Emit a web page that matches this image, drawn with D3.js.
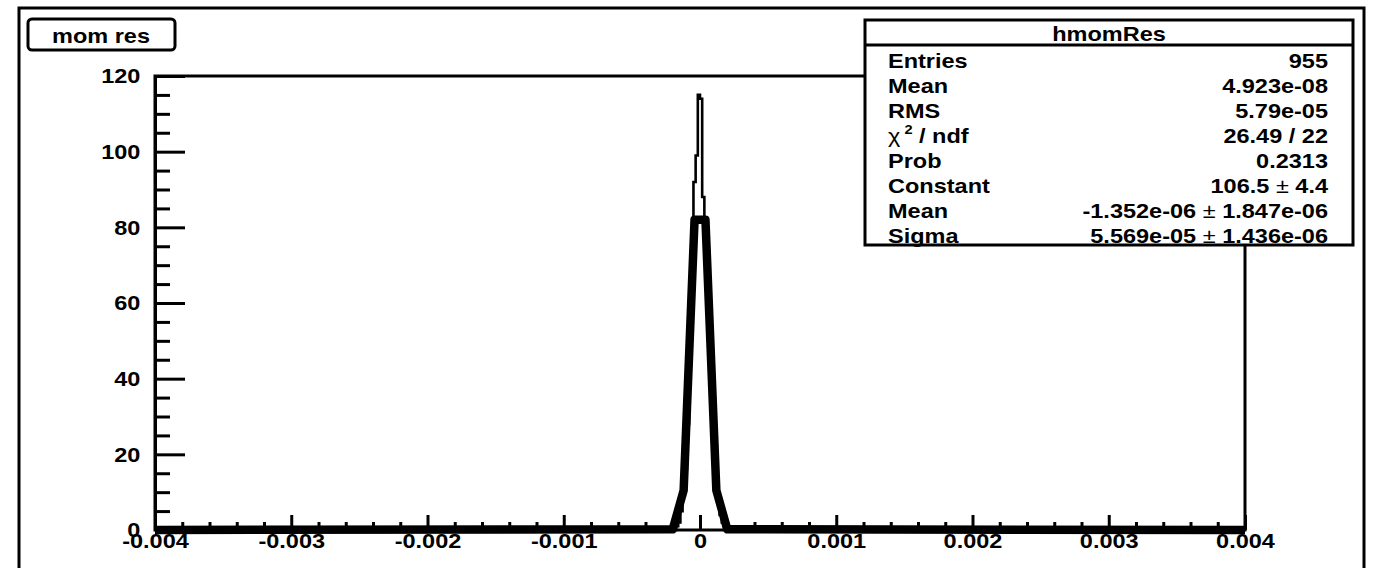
<!DOCTYPE html>
<html>
<head>
<meta charset="utf-8">
<script src="https://cdn.jsdelivr.net/npm/d3@7"></script>
<style>
  body { margin: 0; background: #fff; }
  text { font-family: "Liberation Sans", Arial, sans-serif; font-weight: bold; fill: #000; }
</style>
</head>
<body>
<div id="chart"></div>
<script>
// tick values
const xTicks = [-0.004, -0.003, -0.002, -0.001, 0, 0.001, 0.002, 0.003, 0.004];
const yTicks = [0, 20, 40, 60, 80, 100, 120];

// histogram hmomRes: bin width and counts of the bins around zero (all others empty)
const binWidth = 0.000016;
const histStart = -0.000192;
const histCounts = [0, 1, 2, 5, 9, 16, 28, 44, 60, 92, 99, 115,
                    114, 88, 80, 66, 50, 36, 24, 14, 8, 4, 2, 1];

// gaussian fit curve as drawn (sampled points)
const fitX = [-0.004, -0.0002, -0.00012, -0.00004, 0.00004, 0.00012, 0.0002, 0.004];
const fitY = [0, 0.2, 10.5, 82, 82, 10.5, 0.2, 0];

// stats box
const statsTitle = "hmomRes";
const statsLabels = ["Entries", "Mean", "RMS", "chi2", "Prob", "Constant", "Mean", "Sigma"];
const statsValues = ["955", "4.923e-08", "5.79e-05", "26.49 / 22", "0.2313",
                     "106.5|4.4", "-1.352e-06|1.847e-06", "5.569e-05|1.436e-06"];

const W = 1378, H = 568;
const plot = { left: 155, right: 1245, top: 76, bottom: 530 };
const sx = 1.12; // text is a bit wider than it is tall

const svg = d3.select("#chart").append("svg")
    .attr("width", W)
    .attr("height", H);

// outer canvas frame
svg.append("rect")
    .attr("x", 19).attr("y", 8)
    .attr("width", 1345).attr("height", 580)
    .attr("fill", "none").attr("stroke", "#000").attr("stroke-width", 3);

const x = d3.scaleLinear().domain([-0.004, 0.004]).range([plot.left, plot.right]);
const y = d3.scaleLinear().domain([0, 120]).range([plot.bottom, plot.top]);

// plot frame
svg.append("rect")
    .attr("x", plot.left).attr("y", plot.top)
    .attr("width", plot.right - plot.left).attr("height", plot.bottom - plot.top)
    .attr("fill", "none").attr("stroke", "#000").attr("stroke-width", 3);

function fmtX(d) {
    if (Math.abs(d) < 1e-12) return "0";
    return d.toFixed(3);
}

// minor ticks
svg.append("g")
    .attr("transform", `translate(${plot.left},0)`)
    .call(d3.axisLeft(y).tickValues(d3.range(0, 121, 5).filter(v => v % 20 !== 0))
        .tickSize(-15).tickSizeOuter(0).tickFormat(""))
    .call(g => g.select(".domain").remove())
    .call(g => g.selectAll("line").attr("stroke-width", 3));

svg.append("g")
    .attr("transform", `translate(0,${plot.bottom})`)
    .call(d3.axisBottom(x).tickValues(d3.range(-20, 21).filter(i => i % 5 !== 0).map(i => i / 5000))
        .tickSize(-8).tickSizeOuter(0).tickFormat(""))
    .call(g => g.select(".domain").remove())
    .call(g => g.selectAll("line").attr("stroke-width", 3));

// major ticks + labels
const yAxis = svg.append("g")
    .attr("transform", `translate(${plot.left},0)`)
    .call(d3.axisLeft(y).tickValues(yTicks).tickSize(-30).tickSizeOuter(0).tickPadding(13))
    .call(g => g.select(".domain").attr("stroke-width", 3))
    .call(g => g.selectAll("line").attr("stroke-width", 3));
yAxis.selectAll("text")
    .attr("font-size", 21).attr("font-family", null)
    .attr("transform", `scale(${sx},1)`);

const xAxis = svg.append("g")
    .attr("transform", `translate(0,${plot.bottom})`)
    .call(d3.axisBottom(x).tickValues(xTicks).tickSize(-15).tickSizeOuter(0).tickPadding(3).tickFormat(fmtX))
    .call(g => g.select(".domain").remove())
    .call(g => g.selectAll("line").attr("stroke-width", 3));
xAxis.selectAll("text")
    .attr("font-size", 21).attr("font-family", null)
    .attr("transform", `scale(${sx},1)`);

// histogram (thin steps)
const histPts = [[-0.004, 0]];
histCounts.forEach((c, i) => histPts.push([histStart + i * binWidth, c]));
histPts.push([histStart + histCounts.length * binWidth, 0]);
histPts.push([0.004, 0]);

svg.append("path")
    .datum(histPts)
    .attr("d", d3.line().x(d => x(d[0])).y(d => y(d[1])).curve(d3.curveStepAfter))
    .attr("fill", "none").attr("stroke", "#000").attr("stroke-width", 2.6);

// fit (thick)
svg.append("path")
    .datum(fitX.map((v, i) => [v, fitY[i]]))
    .attr("d", d3.line().x(d => x(d[0])).y(d => y(d[1])))
    .attr("fill", "none").attr("stroke", "#000").attr("stroke-width", 8.5)
    .attr("stroke-linejoin", "round");

// title box
svg.append("rect")
    .attr("x", 28).attr("y", 19)
    .attr("width", 147).attr("height", 31).attr("rx", 4)
    .attr("fill", "#fff").attr("stroke", "#000").attr("stroke-width", 3);
svg.append("text")
    .attr("transform", `translate(101,43) scale(${sx},1)`)
    .attr("text-anchor", "middle").attr("font-size", 21)
    .text("mom res");

// stats box
const sb = { x: 865, y: 20, w: 488, h: 225 };
svg.append("rect")
    .attr("x", sb.x).attr("y", sb.y).attr("width", sb.w).attr("height", sb.h)
    .attr("fill", "#fff").attr("stroke", "#000").attr("stroke-width", 3);
svg.append("line")
    .attr("x1", sb.x).attr("x2", sb.x + sb.w)
    .attr("y1", 45).attr("y2", 45)
    .attr("stroke", "#000").attr("stroke-width", 3);
svg.append("text")
    .attr("transform", `translate(${sb.x + sb.w / 2},41) scale(${sx},1)`)
    .attr("text-anchor", "middle").attr("font-size", 21)
    .text(statsTitle);

statsLabels.forEach((lab, i) => {
    const by = 68 + i * 25;
    const t = svg.append("text")
        .attr("transform", `translate(888,${by}) scale(${sx},1)`)
        .attr("font-size", 21);
    if (lab === "chi2") {
        t.append("tspan").attr("font-weight", "normal").text("\u03c7");
        t.append("tspan").attr("font-size", 13).attr("dy", -9).text(" 2");
        t.append("tspan").attr("dy", 9).text(" / ndf");
    } else {
        t.text(lab);
    }

    const v = svg.append("text")
        .attr("transform", `translate(1328,${by}) scale(${sx},1)`)
        .attr("text-anchor", "end").attr("font-size", 21);
    const parts = statsValues[i].split("|");
    if (parts.length === 2) {
        v.append("tspan").text(parts[0] + " ");
        v.append("tspan").attr("font-weight", "normal").text("\u00b1");
        v.append("tspan").text(" " + parts[1]);
    } else {
        v.text(parts[0]);
    }
});
</script>
</body>
</html>
